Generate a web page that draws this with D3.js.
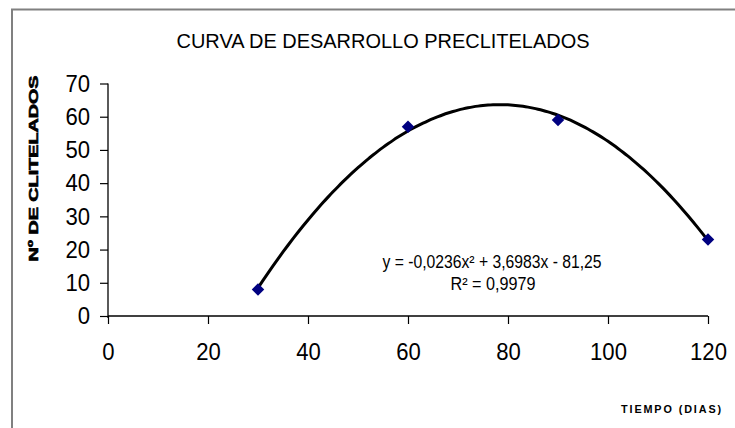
<!DOCTYPE html>
<html><head><meta charset="utf-8">
<script src="https://cdn.jsdelivr.net/npm/d3@7"></script>
<style>body{margin:0;background:#fff}svg{display:block}</style>
</head><body>
<svg id="c" width="735" height="428"></svg>
<script>
const dias = [30, 60, 90, 120];
const clitelados = [8, 57, 59, 23];
const xTicks = [0, 20, 40, 60, 80, 100, 120];
const yTicks = [0, 10, 20, 30, 40, 50, 60, 70];
const trendCoef = [-0.0236, 3.6983, -81.25]; // a, b, c  (y = a x^2 + b x + c)
const trendRange = [30, 120];
const title = "CURVA DE DESARROLLO PRECLITELADOS";
const yTitle = "Nº DE CLITELADOS";
const xTitle = "TIEMPO (DIAS)";
const eqText = "y = -0,0236x² + 3,6983x - 81,25";
const r2Text = "R² = 0,9979";

const svg = d3.select("#c");
const font = "'Liberation Sans', Arial, sans-serif";

// outer frame
svg.append("rect").attr("x", 12).attr("y", 9.5).attr("width", 760).attr("height", 460)
  .attr("fill", "none").attr("stroke", "#808080").attr("stroke-width", 2);

const x = d3.scaleLinear().domain([0, 120]).range([108, 708]);
const y = d3.scaleLinear().domain([0, 70]).range([316, 83.5]);

// title
svg.append("text").attr("x", 383).attr("y", 48).attr("text-anchor", "middle")
  .attr("font-family", font).attr("font-size", 20.5)
  .attr("textLength", 413).attr("lengthAdjust", "spacingAndGlyphs")
  .text(title);

// axes
const yAxis = svg.append("g").attr("transform", `translate(${x(0)},0)`)
  .call(d3.axisLeft(y).tickValues(yTicks).tickSize(8).tickPadding(10).tickFormat(d3.format("d")));
const xAxis = svg.append("g").attr("transform", `translate(0,${y(0)})`)
  .call(d3.axisBottom(x).tickValues(xTicks).tickSize(8).tickPadding(19).tickFormat(d3.format("d")));
[yAxis, xAxis].forEach(g => {
  g.select(".domain").remove();
  g.selectAll(".tick line").attr("stroke", "#000").attr("stroke-width", 1.2);
  g.selectAll(".tick text").attr("font-family", font).attr("fill", "#000")
    .attr("font-size", 24)
    .attr("textLength", function () { return this.textContent.length * 12.3; })
    .attr("lengthAdjust", "spacingAndGlyphs");
});
svg.append("line").attr("x1", x(0)).attr("x2", x(0)).attr("y1", y(70)).attr("y2", y(0) + 2)
  .attr("stroke", "#000").attr("stroke-width", 1.3);
svg.append("line").attr("x1", x(0)).attr("x2", x(120)).attr("y1", y(0)).attr("y2", y(0))
  .attr("stroke", "#000").attr("stroke-width", 1.3);

// axis titles
svg.append("text").attr("transform", `translate(38,${(75 + 262) / 2}) rotate(-90)`)
  .attr("text-anchor", "middle").attr("font-family", font).attr("font-weight", "bold")
  .attr("font-size", 12).attr("textLength", 186).attr("lengthAdjust", "spacingAndGlyphs")
  .attr("stroke", "#000").attr("stroke-width", 0.6)
  .text(yTitle);
svg.append("text").attr("x", 672).attr("y", 413).attr("text-anchor", "middle")
  .attr("font-family", font).attr("font-weight", "bold").attr("font-size", 11.5)
  .attr("letter-spacing", 2).attr("textLength", 102).attr("lengthAdjust", "spacingAndGlyphs")
  .text(xTitle);

// trend line
const xs = d3.range(trendRange[0], trendRange[1] + 0.01, 1);
const trend = xs.map(v => [v, trendCoef[0] * v * v + trendCoef[1] * v + trendCoef[2]]);
svg.append("path").datum(trend)
  .attr("d", d3.line().x(d => x(d[0])).y(d => y(d[1])).curve(d3.curveMonotoneX))
  .attr("fill", "none").attr("stroke", "#000").attr("stroke-width", 3);

// data points
svg.selectAll("path.pt").data(dias.map((d, i) => [d, clitelados[i]])).enter()
  .append("path").attr("class", "pt")
  .attr("transform", d => `translate(${x(d[0])},${y(d[1])})`)
  .attr("d", d3.symbol().type(d3.symbolDiamond2).size(100))
  .attr("fill", "#000080");

// equation
svg.append("text").attr("x", 492).attr("y", 268).attr("text-anchor", "middle")
  .attr("font-family", font).attr("font-size", 18)
  .attr("textLength", 219).attr("lengthAdjust", "spacingAndGlyphs").text(eqText);
svg.append("text").attr("x", 493).attr("y", 290).attr("text-anchor", "middle")
  .attr("font-family", font).attr("font-size", 18)
  .attr("textLength", 85).attr("lengthAdjust", "spacingAndGlyphs").text(r2Text);
</script>
</body></html>
